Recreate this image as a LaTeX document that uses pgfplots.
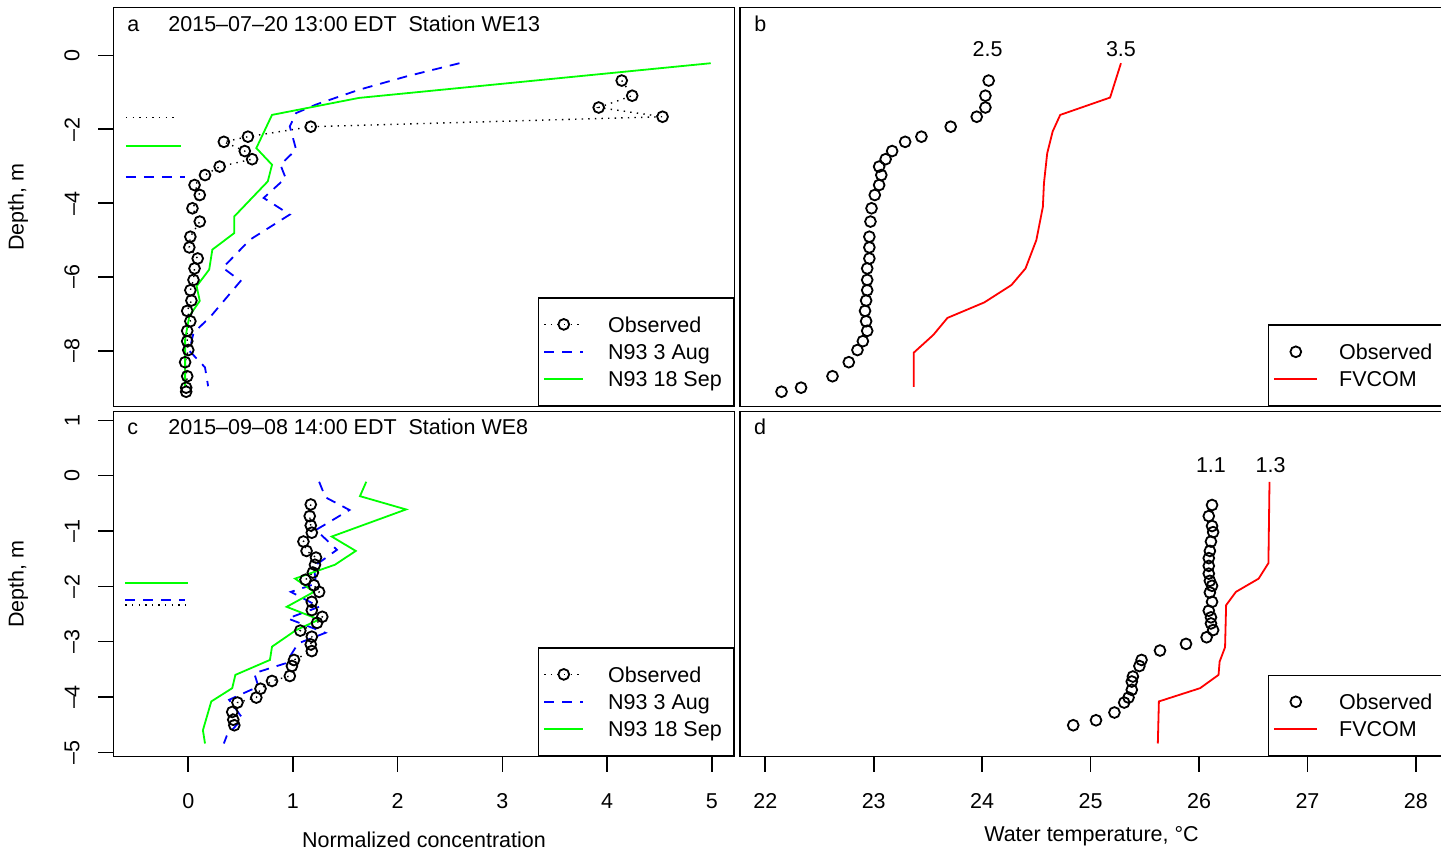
\documentclass[border=0pt]{standalone}
\usepackage{fontspec}
\setmainfont{Liberation Sans}
\usepackage{pgfplots}
\pgfplotsset{compat=1.18}
\newcommand\lsize{\fontsize{10.75}{13}\selectfont}
\definecolor{rgreen}{RGB}{0,255,0}
\definecolor{rblue}{RGB}{0,0,255}
\definecolor{rred}{RGB}{255,0,0}
\pgfplotsset{
  base/.style={
    scale only axis,
    axis line style={line width=0.8pt},
    tick style={line width=0.8pt, black},
    major tick length=7.5pt,
    tick align=outside,
    /pgf/number format/assume math mode=true,
    tick label style={font=\lsize},
    label style={font=\lsize},
    xticklabel style={anchor=north, inner sep=0pt},
    yticklabel style={rotate=90, anchor=south, inner sep=0pt},
    xticklabel shift=11pt,
    yticklabel shift=9.25pt,
    legend cell align=left,
  },
  leg/.style={
    legend style={at={(1,0)}, anchor=south east, draw=black, line width=0.8pt, fill=white, font=\lsize,
      inner xsep=2.5pt, inner ysep=9.4pt, row sep=6pt,
      nodes={inner sep=0pt, text height=7.7pt, text depth=0pt},
      /tikz/every odd column/.style={column sep=#1}},
  },
  obs/.style={black, line width=0.7pt, dash pattern=on 0.7pt off 2.6pt, mark=o, mark size=2.7pt, mark options={solid, line width=0.9pt}},
  obsonly/.style={only marks, black, mark=o, mark size=2.7pt, mark options={solid, line width=0.9pt}},
  n3/.style={rblue, line width=0.9pt, dash pattern=on 5pt off 4pt},
  n18/.style={rgreen, line width=0.9pt},
  fv/.style={rred, line width=0.9pt},
}
\begin{document}
\begin{tikzpicture}[font=\lsize]
\useasboundingbox (0,0) rectangle (720.5pt,426pt);
% ---------------- panel a
\begin{axis}[base, leg=12pt, at={(56.75pt,222.75pt)}, anchor=south west, width=310.5pt, height=199.5pt,
  xmin=-0.714, xmax=5.217, ymin=-9.51, ymax=1.30,
  xtick=\empty, ytick={0,-2,-4,-6,-8}, yticklabels={\mbox{0},\mbox{–2},\mbox{–4},\mbox{–6},\mbox{–8}}, ytick pos=left,
  ylabel={Depth, m}, ylabel style={at={(axis description cs:-0.1538,0.5)}, anchor=center},
  legend image code/.code={\draw[#1, mark repeat=2, mark phase=2] plot coordinates {(0pt,0pt) (9.75pt,0pt) (19.5pt,0pt)};},
]
\addplot[obs] coordinates {
(4.14,-0.68) (4.24,-1.09) (3.92,-1.41) (4.53,-1.66) (1.17,-1.93) (0.57,-2.20) (0.34,-2.34)
(0.54,-2.59) (0.61,-2.81) (0.30,-3.01) (0.16,-3.24) (0.06,-3.51) (0.11,-3.78) (0.04,-4.14)
(0.11,-4.50) (0.02,-4.91) (0.01,-5.20) (0.09,-5.50) (0.06,-5.77) (0.05,-6.08) (0.02,-6.36)
(0.03,-6.64) (-0.01,-6.92) (0.02,-7.20) (-0.01,-7.46) (-0.01,-7.74) (0.00,-7.98) (-0.03,-8.31)
(-0.01,-8.69) (-0.02,-9.00) (-0.02,-9.11)};
\addlegendentry{\makebox[60.25pt][l]{Observed}}
\addplot[n3] coordinates {
(2.59,-0.21) (2.08,-0.57) (1.63,-0.93) (1.22,-1.33) (1.03,-1.56) (0.97,-1.92) (1.03,-2.55)
(0.88,-2.96) (0.93,-3.32) (0.72,-3.86) (0.97,-4.31) (0.59,-4.99) (0.33,-5.75) (0.50,-6.11)
(0.22,-7.05) (0.05,-7.52) (0.01,-8.00) (0.16,-8.45) (0.19,-8.96)};
\addlegendentry{\makebox[60.25pt][l]{N93 3 Aug}}
\addplot[n18] coordinates {
(4.99,-0.21) (1.63,-1.15) (0.80,-1.61) (0.65,-2.51) (0.80,-2.96) (0.76,-3.41) (0.44,-4.36)
(0.44,-4.81) (0.23,-5.26) (0.20,-5.80) (0.08,-6.25) (0.11,-6.65) (0.01,-7.06) (-0.03,-7.69)
(-0.03,-8.95)};
\addlegendentry{\makebox[60.25pt][l]{N93 18 Sep}}
\addplot[black, line width=0.7pt, dash pattern=on 0.7pt off 2.6pt, forget plot] coordinates {(-0.595,-1.675) (-0.108,-1.675)};
\addplot[n18, forget plot] coordinates {(-0.595,-2.455) (-0.07,-2.455)};
\addplot[n3, forget plot] coordinates {(-0.595,-3.30) (-0.03,-3.30)};
\node[anchor=base west, inner sep=0pt] at (rel axis cs:0.0217,0.9386) {a};
\node[anchor=base west, inner sep=0pt] at (rel axis cs:0.0878,0.9386) {2015–07–20 13:00 EDT\ \ Station WE13};
\end{axis}
% ---------------- panel b
\begin{axis}[base, leg=10.5pt, at={(370pt,222.75pt)}, anchor=south west, width=351.5pt, height=199.5pt,
  xmin=21.767, xmax=28.25, ymin=-9.51, ymax=1.30,
  xtick=\empty, ytick=\empty,
  legend image code/.code={\draw[#1, mark repeat=2, mark phase=2] plot coordinates {(0pt,0pt) (10.75pt,0pt) (21.5pt,0pt)};},
]
\addplot[obsonly] coordinates {
(24.06,-0.68) (24.03,-1.09) (24.03,-1.41) (23.95,-1.66) (23.71,-1.93) (23.44,-2.20) (23.29,-2.34)
(23.17,-2.59) (23.11,-2.81) (23.05,-3.01) (23.07,-3.24) (23.05,-3.51) (23.01,-3.78) (22.98,-4.14)
(22.97,-4.50) (22.96,-4.91) (22.96,-5.20) (22.96,-5.50) (22.94,-5.77) (22.94,-6.08) (22.94,-6.36)
(22.93,-6.64) (22.92,-6.92) (22.93,-7.20) (22.94,-7.46) (22.90,-7.74) (22.85,-7.98) (22.77,-8.31)
(22.62,-8.69) (22.33,-9.00) (22.15,-9.11)};
\addlegendentry{\makebox[49pt][l]{Observed}}
\addplot[fv] coordinates {
(25.28,-0.21) (25.18,-1.14) (24.72,-1.61) (24.65,-2.06) (24.60,-2.65) (24.57,-3.46) (24.56,-4.10)
(24.50,-5.00) (24.40,-5.77) (24.27,-6.22) (24.02,-6.69) (23.68,-7.11) (23.55,-7.57) (23.37,-8.05)
(23.37,-8.98)};
\addlegendentry{\makebox[49pt][l]{FVCOM}}
\node[anchor=base west, inner sep=0pt] at (rel axis cs:0.02,0.9386) {b};
\node[anchor=center, inner sep=0pt] at (axis cs:24.05,0.17) {2.5};
\node[anchor=center, inner sep=0pt] at (axis cs:25.28,0.17) {3.5};
\end{axis}
% ---------------- panel c
\begin{axis}[base, leg=12pt, at={(56.75pt,47.75pt)}, anchor=south west, width=310.5pt, height=172.5pt,
  xmin=-0.714, xmax=5.217, ymin=-5.075, ymax=1.16,
  xtick={0,1,2,3,4,5}, xtick pos=lower,
  ytick={1,0,-1,-2,-3,-4,-5}, yticklabels={\mbox{1},\mbox{0},\mbox{–1},\mbox{–2},\mbox{–3},\mbox{–4},\mbox{–5}}, ytick pos=left,
  ylabel={Depth, m}, ylabel style={at={(axis description cs:-0.1538,0.5)}, anchor=center},
  xlabel={Normalized concentration}, xlabel style={at={(axis description cs:0.5,-0.2652)}, anchor=base},
  legend image code/.code={\draw[#1, mark repeat=2, mark phase=2] plot coordinates {(0pt,0pt) (9.75pt,0pt) (19.5pt,0pt)};},
]
\addplot[obs] coordinates {
(1.17,-0.52) (1.16,-0.73) (1.17,-0.90) (1.18,-1.03) (1.10,-1.19) (1.13,-1.36) (1.22,-1.48)
(1.21,-1.61) (1.19,-1.75) (1.12,-1.88) (1.20,-1.98) (1.25,-2.10) (1.18,-2.28) (1.18,-2.43)
(1.28,-2.55) (1.23,-2.66) (1.07,-2.80) (1.18,-2.91) (1.17,-3.05) (1.18,-3.17) (1.01,-3.33)
(0.99,-3.44) (0.97,-3.62) (0.80,-3.71) (0.69,-3.85) (0.65,-4.01) (0.47,-4.10) (0.42,-4.27)
(0.43,-4.41) (0.44,-4.51)};
\addlegendentry{\makebox[60.25pt][l]{Observed}}
\addplot[n3] coordinates {
(1.25,-0.11) (1.31,-0.39) (1.54,-0.62) (1.22,-0.98) (1.42,-1.34) (1.20,-1.64) (1.22,-1.95)
(0.98,-2.10) (1.25,-2.37) (0.95,-2.58) (1.31,-2.84) (1.05,-3.03) (0.93,-3.39) (0.63,-3.57)
(0.67,-3.81) (0.39,-4.05) (0.52,-4.39) (0.37,-4.69) (0.34,-4.84)};
\addlegendentry{\makebox[60.25pt][l]{N93 3 Aug}}
\addplot[n18] coordinates {
(1.70,-0.11) (1.64,-0.37) (2.08,-0.61) (1.37,-1.10) (1.60,-1.36) (1.40,-1.61) (1.02,-1.86)
(1.20,-2.10) (0.94,-2.37) (1.25,-2.60) (1.03,-2.79) (0.80,-3.09) (0.78,-3.33) (0.45,-3.60)
(0.42,-3.84) (0.22,-4.08) (0.14,-4.60) (0.16,-4.84)};
\addlegendentry{\makebox[60.25pt][l]{N93 18 Sep}}
\addplot[n18, forget plot] coordinates {(-0.60,-1.946) (0.0,-1.946)};
\addplot[n3, forget plot] coordinates {(-0.60,-2.247) (-0.03,-2.247)};
\addplot[black, line width=0.7pt, dash pattern=on 0.7pt off 2.6pt, forget plot] coordinates {(-0.60,-2.337) (-0.03,-2.337)};
\node[anchor=base west, inner sep=0pt] at (rel axis cs:0.0217,0.932) {c};
\node[anchor=base west, inner sep=0pt] at (rel axis cs:0.0878,0.932) {2015–09–08 14:00 EDT\ \ Station WE8};
\end{axis}
% ---------------- panel d
\begin{axis}[base, leg=10.5pt, at={(370pt,47.75pt)}, anchor=south west, width=351.5pt, height=172.5pt,
  xmin=21.767, xmax=28.25, ymin=-5.075, ymax=1.16,
  xtick={22,23,24,25,26,27,28}, xtick pos=lower, ytick=\empty,
  xlabel={Water temperature, °C}, xlabel style={at={(axis description cs:0.5,-0.2478)}, anchor=base},
  legend image code/.code={\draw[#1, mark repeat=2, mark phase=2] plot coordinates {(0pt,0pt) (10.75pt,0pt) (21.5pt,0pt)};},
]
\addplot[obsonly] coordinates {
(26.12,-0.53) (26.09,-0.73) (26.12,-0.91) (26.13,-1.02) (26.11,-1.19) (26.10,-1.36) (26.09,-1.49)
(26.09,-1.63) (26.09,-1.77) (26.10,-1.90) (26.12,-1.99) (26.10,-2.11) (26.12,-2.28) (26.09,-2.44)
(26.11,-2.56) (26.11,-2.67) (26.13,-2.79) (26.07,-2.92) (25.88,-3.04) (25.64,-3.16) (25.47,-3.33)
(25.45,-3.44) (25.39,-3.63) (25.38,-3.72) (25.38,-3.87) (25.35,-4.01) (25.31,-4.10) (25.22,-4.28)
(25.05,-4.42) (24.84,-4.51)};
\addlegendentry{\makebox[49pt][l]{Observed}}
\addplot[fv] coordinates {
(26.65,-0.11) (26.64,-1.58) (26.55,-1.86) (26.34,-2.10) (26.25,-2.34) (26.24,-3.10) (26.19,-3.36)
(26.18,-3.60) (26.01,-3.84) (25.63,-4.08) (25.62,-4.84)};
\addlegendentry{\makebox[49pt][l]{FVCOM}}
\node[anchor=base west, inner sep=0pt] at (rel axis cs:0.0195,0.932) {d};
\node[anchor=center, inner sep=0pt] at (axis cs:26.11,0.20) {1.1};
\node[anchor=center, inner sep=0pt] at (axis cs:26.66,0.20) {1.3};
\end{axis}
\end{tikzpicture}
\end{document}
